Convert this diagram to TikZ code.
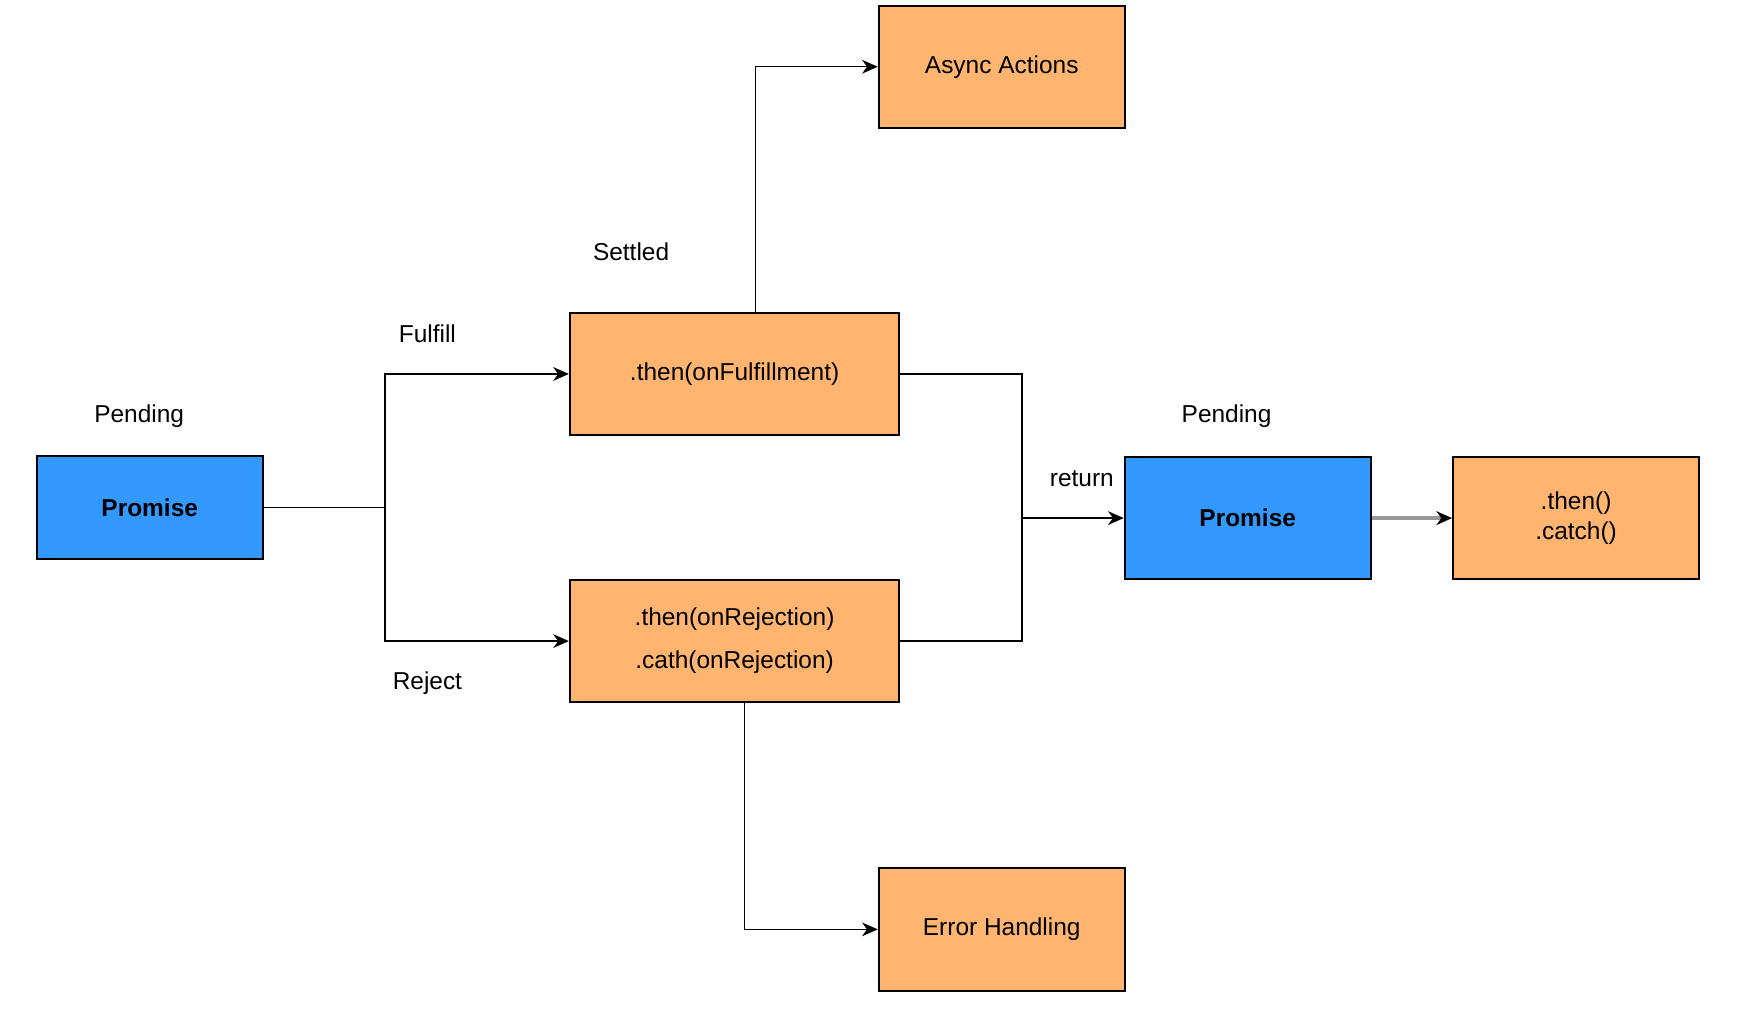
\documentclass[tikz,border=0pt]{standalone}
\usepackage{fontspec}
\setmainfont{Liberation Sans}
\usepackage{tikz}
\usetikzlibrary{arrows.meta, backgrounds}
\definecolor{boxorange}{HTML}{FFB570}
\definecolor{boxblue}{HTML}{3399FF}
\pgfdeclarelayer{background}
\pgfsetlayers{background,main}
\begin{document}
\begin{tikzpicture}

    % Font size
    \fontsize{12.5}{15}\selectfont

    % Boxes
    \tikzset{box/.style={draw=black, line width = 1pt, inner sep = 2pt, align = center}}
    \tikzset{pB/.style={box, fill = boxblue, font = \bfseries, minimum width = 4.06cm, minimum height = 1.84cm}}
    \tikzset{hB/.style={box, fill = boxorange, minimum width = 5.92cm, minimum height = 2.2cm}}
    \tikzset{sB/.style={box, fill = boxorange, minimum width = 4.42cm, minimum height = 2.2cm}}

    % Connectors
    \tikzset{eC/.style={draw=black, line width = 0.75pt}}
    \tikzset{aC/.style={eC, -{Stealth[length = 8pt, width = 7pt, inset = 2.5pt]}}}

    % Frame
    \useasboundingbox (0, -0.08) rectangle (31.32, 18.32);

    % Labels
    \node (pend1) at (2.5, 10.84) {Pending};
    \node (settled) at (11.34, 13.8) {Settled};
    \node (fulfill) at (7.68, 12.32) {Fulfill};
    \node (reject) at (7.68, 6.04) {Reject};
    \node (ret) at (19.44, 9.72) {return};
    \node (pend2) at (22.04, 10.84) {Pending};

    % Nodes
    \node (prom1) [pB] at (2.69, 9.2) {Promise};
    	\coordinate (split) at (6.92, 9.2);
    		\node (ful) [hB] at (13.2, 11.6) {.then(onFulfillment)};
    			\node (async) [sB] at (18.0, 17.12) {Async Actions};
    		\node (rej) [hB] at (13.2, 6.8) {.then(onRejection)\\[7pt].cath(onRejection)};
    			\node (err) [sB] at (18.0, 1.62) {Error Handling};
    	\coordinate (merge) at (18.36, 9.01);
    \node (prom2) [pB, minimum width = 4.42cm, minimum height = 2.2cm] at (22.42, 9.01) {Promise};
    	\node (chain) [sB] at (28.32, 9.01) {.then()\\.catch()};

    % Connections
    \begin{pgfonlayer}{background}

    	\path[eC] (prom1) -- (split);
    		\path[aC] (split) |- (ful);
    		\path[aC] (split) |- (rej);
    			\path[aC] ([xshift = 0.38cm]ful.north) |- (async);
    			\path[aC] ([xshift = 0.18cm]rej.south) |- (err);
    		\path[eC] (ful) -| (merge);
    		\path[eC] (rej) -| (merge);
    	\path[aC] (merge) -- (prom2);
    	\path[draw=gray!80, line width = 1.8pt, -{Stealth[black, length = 8pt, width = 7pt, inset = 2.5pt]}] (prom2) -- (chain);

    \end{pgfonlayer}

\end{tikzpicture}
\end{document}
